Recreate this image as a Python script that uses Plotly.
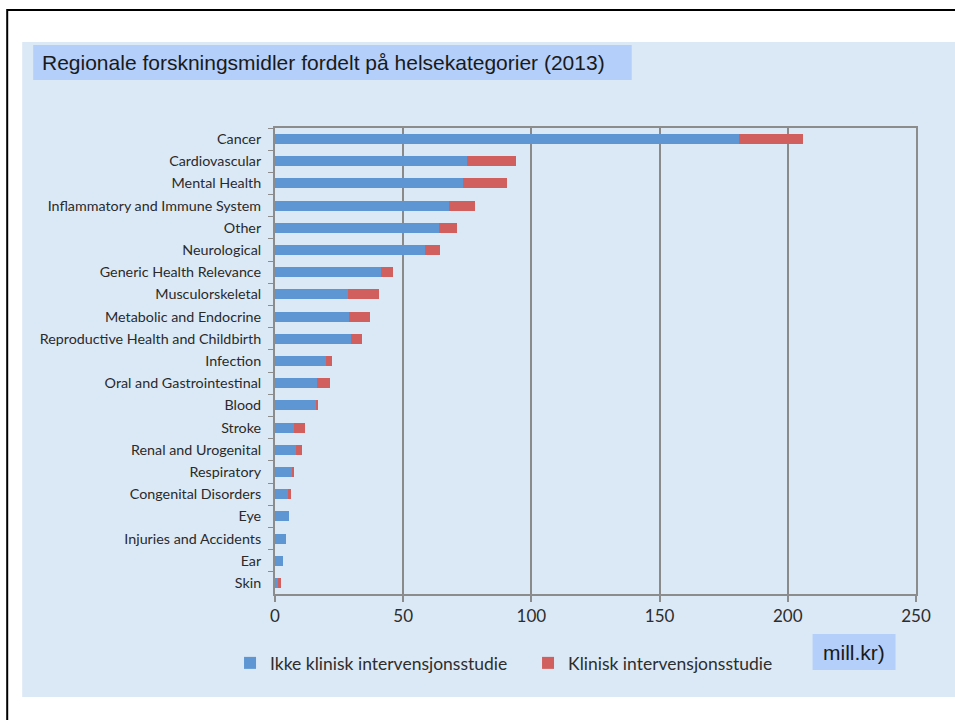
import plotly.graph_objects as go

categories = ["Cancer", "Cardiovascular", "Mental Health", "Inflammatory and Immune System",
              "Other", "Neurological", "Generic Health Relevance", "Musculorskeletal",
              "Metabolic and Endocrine", "Reproductive Health and Childbirth", "Infection",
              "Oral and Gastrointestinal", "Blood", "Stroke", "Renal and Urogenital",
              "Respiratory", "Congenital Disorders", "Eye", "Injuries and Accidents", "Ear", "Skin"]
ikke_klinisk = [181, 75, 73.5, 68, 64, 58.5, 41.5, 28.5, 29, 29.8, 20, 16.3, 16.2, 7.6, 8.2,
                6.9, 5.4, 5.3, 4.4, 3.0, 1.3]
klinisk = [25, 19, 17, 10, 7, 6, 4.4, 12, 8, 4.3, 2.3, 5.1, 0.5, 4.2, 2.3, 0.5, 0.7, 0, 0, 0, 1.2]
x_ticks = [0, 50, 100, 150, 200, 250]
title_text = "Regionale forskningsmidler fordelt på helsekategorier (2013)"
unit_text = "mill.kr)"

W, H = 955, 720
L, R, T, B = 275, 916.5, 128, 594

def px(x):
    return (x - L) / (R - L)

def py(y):
    return (B - y) / (B - T)

fig = go.Figure()
fig.add_trace(go.Bar(y=categories, x=ikke_klinisk, orientation="h",
                     name="Ikke klinisk intervensjonsstudie", marker_color="#5d96d3",
                     marker_line_width=0))
fig.add_trace(go.Bar(y=categories, x=klinisk, orientation="h",
                     name="Klinisk intervensjonsstudie", marker_color="#d05f5d",
                     marker_line_width=0))

shapes = [
    # outer black frame
    dict(type="rect", xref="paper", yref="paper", x0=px(7), x1=px(990), y0=py(760), y1=py(10),
         line=dict(color="black", width=2), fillcolor="rgba(0,0,0,0)", layer="below"),
    # light blue panel
    dict(type="rect", xref="paper", yref="paper", x0=px(22), x1=px(960), y0=py(697), y1=py(42),
         line=dict(width=0), fillcolor="#dbe9f6", layer="below"),
    # title box
    dict(type="rect", xref="paper", yref="paper", x0=px(33), x1=px(632), y0=py(80), y1=py(45),
         line=dict(width=0), fillcolor="#b4cff9", layer="below"),
    # unit box
    dict(type="rect", xref="paper", yref="paper", x0=px(813), x1=px(896), y0=py(670), y1=py(634),
         line=dict(width=0), fillcolor="#b4cff9", layer="below"),
]

annotations = [
    dict(text=title_text, xref="paper", yref="paper", x=px(40), y=py(62), xanchor="left",
         yanchor="middle", showarrow=False,
         font=dict(family="Liberation Sans, Arial", size=21, color="#1a1a1a")),
    dict(text=unit_text, xref="paper", yref="paper", x=px(854), y=py(652), xanchor="center",
         yanchor="middle", showarrow=False,
         font=dict(family="Liberation Sans, Arial", size=21, color="#1a1a1a")),
]

fig.update_layout(
    width=W, height=H,
    margin=dict(l=L, r=W - R, t=T, b=H - B, pad=0),
    barmode="stack", bargap=0.55,
    paper_bgcolor="white", plot_bgcolor="#eef6fd",
    shapes=shapes, annotations=annotations,
    font=dict(family="Lato, Open Sans, sans-serif", color="#2d2d2d"),
    legend=dict(orientation="h", x=px(230), y=py(645), xanchor="left", yanchor="top",
                bgcolor="rgba(0,0,0,0)", font=dict(size=17.5, color="#2d2d2d"),
                entrywidth=253, entrywidthmode="pixels", itemwidth=30, traceorder="normal"),
    showlegend=True,
)
fig.update_xaxes(range=[0, 250], tickvals=x_ticks, ticktext=[str(v) for v in x_ticks],
                 showgrid=True, gridcolor="#8a8a8a", gridwidth=2,
                 showline=True, linecolor="#8c8c8c", linewidth=2, mirror=True,
                 ticks="outside", ticklen=6, tickcolor="#8c8c8c", tickwidth=2,
                 tickfont=dict(size=17, color="#2d2d2d"), zeroline=False, fixedrange=True)
fig.update_yaxes(categoryorder="array", categoryarray=categories, autorange="reversed",
                 showline=True, linecolor="#8c8c8c", linewidth=2, mirror=True,
                 ticks="outside", ticklen=5, tickcolor="#8c8c8c", tickwidth=1,
                 tickson="boundaries", showgrid=False,
                 tickfont=dict(size=14.3, color="#2a2a2a"), ticklabelstandoff=9, fixedrange=True)

fig.write_html("out.html", config={"displayModeBar": False},
               post_script="document.body.style.margin='0px'; document.body.style.overflow='hidden';")
